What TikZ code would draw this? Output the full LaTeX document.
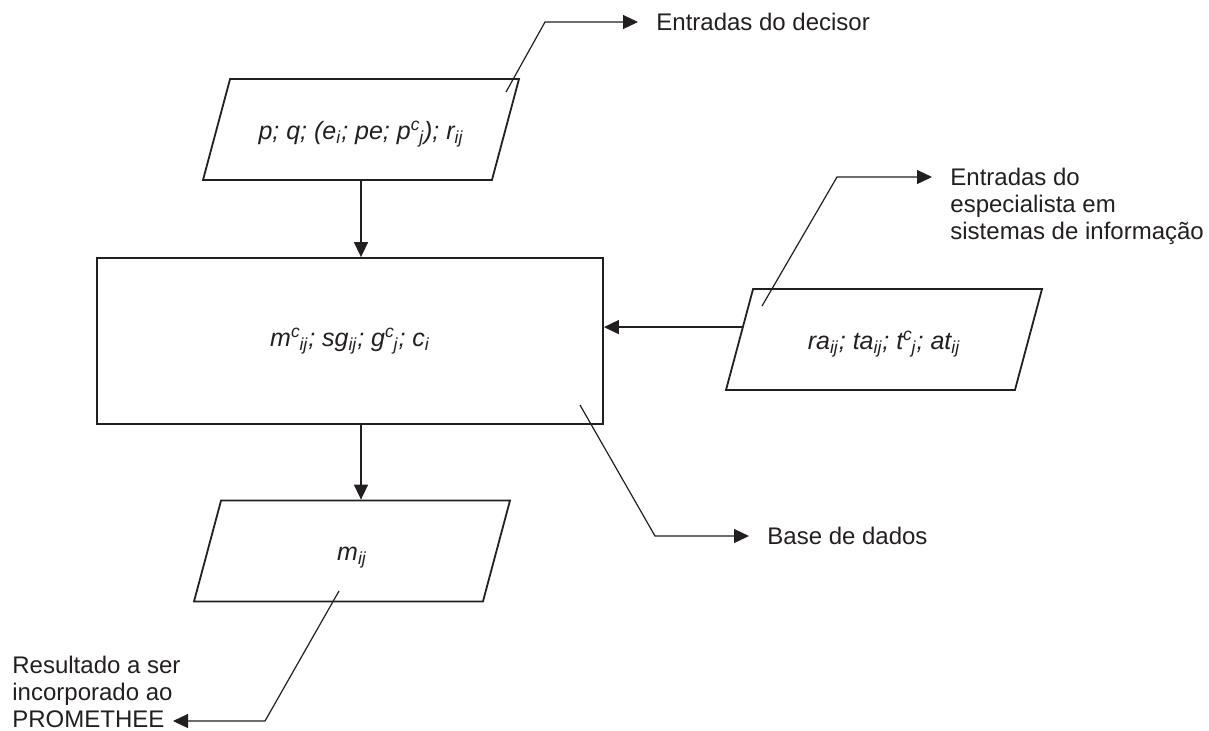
\documentclass[tikz,border=0pt]{standalone}
\usepackage{fontspec}
\setmainfont{Liberation Sans}
\usetikzlibrary{arrows.meta,positioning}
\usetikzlibrary{shapes.geometric}
\definecolor{ink}{RGB}{35,31,32}
\newcommand{\supsub}[2]{\textsuperscript{#1}\kern-.05em\textsubscript{#2}}

\begin{document}
\begin{tikzpicture}
	[x=0.5pt,y=-0.5pt,
	every node/.style={font=\fontsize{12}{13.5}\selectfont,text=ink},
	data node/.style={shape=trapezium,draw=ink,line width=0.9pt,trapezium left angle=75,trapezium right angle=105,trapezium stretches body=true,text height=10.5pt,text depth=1pt,inner xsep=2pt,inner ysep=19.5pt,minimum width=158pt,font=\fontsize{12.5}{14}\selectfont\itshape},
	store node/.style={shape=rectangle,draw=ink,line width=0.9pt,minimum width=253pt,minimum height=83pt,font=\fontsize{12.5}{14}\selectfont\itshape},
	note/.style={inner sep=0pt,align=left},
	flow/.style={draw=ink,line width=0.8pt,-{Triangle[length=7.5pt,width=7pt]}},
	leader/.style={draw=ink,line width=0.6pt,-{Triangle[length=7.5pt,width=7pt]}}]
	\useasboundingbox (0,0) rectangle (1209,730);
	
	\node [data node] (decisor) at (361,129.5) {p; q; (e\textsubscript{i}; pe; p\supsub{c}{j}); r\textsubscript{ij}};
	\node [store node] (base) at (350,341) {m\supsub{c}{ij}; sg\textsubscript{ij}; g\supsub{c}{j}; c\textsubscript{i}};
	\node [data node] (espec) at (884,339.5) {ra\textsubscript{ij}; ta\textsubscript{ij}; t\supsub{c}{j}; at\textsubscript{ij}};
	\node [data node] (result) at (352,551) {m\textsubscript{ij}};
	
	% setas principais
	\draw [flow] (decisor.center |- decisor.south) -- (decisor.center |- base.north);
	\draw [flow] (espec.175) -- (espec.175 -| base.east);
	\draw [flow] (base.south -| decisor.center) -- (result.north -| decisor.center);
	
	% chamadas
	\coordinate (decA) at (506,92);
	\coordinate (decB) at (545,22);
	\coordinate (decTip) at (638,22);
	\node [note, right=9pt of decTip] (decisorTxt) {Entradas do decisor};
	\draw [leader] (decA) -- (decB) -- (decTip);
	
	\coordinate (espA) at (762,306);
	\coordinate (espB) at (837,177);
	\coordinate (espTip) at (932,177);
	\node [note, below right=-4.5pt and 9pt of espTip] (especTxt) {Entradas do\\especialista em\\sistemas de informação};
	\draw [leader] (espA) -- (espB) -- (espTip);
	
	\coordinate (baseA) at (580,405);
	\coordinate (baseB) at (655,536);
	\coordinate (baseTip) at (749,536);
	\node [note, right=9pt of baseTip] (baseTxt) {Base de dados};
	\draw [leader] (baseA) -- (baseB) -- (baseTip);
	
	\coordinate (resA) at (339,591);
	\coordinate (resB) at (265,721);
	\coordinate (resTip) at (173,721);
	\node [note, anchor=south west] (resultTxt) at (12,728) {Resultado a ser\\incorporado ao\\PROMETHEE};
	\draw [leader] (resA) -- (resB) -- (resTip);
	
\end{tikzpicture}
\end{document}
